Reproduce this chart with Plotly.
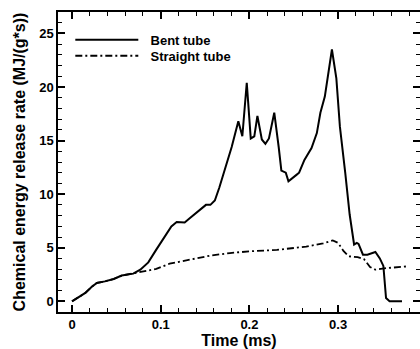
import plotly.graph_objects as go

# Bent tube (solid)
bent_t = [0, 0.009, 0.015, 0.022, 0.028, 0.037, 0.047, 0.056, 0.062, 0.069, 0.077, 0.086,
          0.095, 0.105, 0.112, 0.118, 0.127, 0.133, 0.140, 0.146, 0.151, 0.156, 0.161, 0.166,
          0.172, 0.180, 0.1875, 0.192, 0.197, 0.2015, 0.2055, 0.209, 0.214, 0.218, 0.222,
          0.228, 0.233, 0.236, 0.241, 0.244, 0.253, 0.256, 0.262, 0.270, 0.276, 0.280,
          0.285, 0.293, 0.298, 0.302, 0.308, 0.313, 0.318, 0.321, 0.323, 0.328, 0.333,
          0.338, 0.342, 0.347, 0.351, 0.354, 0.358, 0.372]
bent_v = [0, 0.47, 0.78, 1.34, 1.71, 1.86, 2.08, 2.4, 2.49, 2.58, 2.95, 3.63,
          4.82, 6.06, 6.99, 7.4, 7.36, 7.77, 8.24, 8.6, 9.0, 9.0, 9.4, 10.6,
          12.3, 14.4, 16.8, 15.4, 20.4, 15.2, 15.4, 17.3, 15.1, 14.7, 15.2,
          17.6, 14.4, 12.2, 12.0, 11.2, 11.8, 12.0, 13.2, 14.3, 15.7, 17.6,
          19.1, 23.5, 20.8, 16.3, 12.0, 8.1, 5.3, 5.45, 5.35, 4.35, 4.35,
          4.5, 4.6, 4.0, 3.3, 0.3, 0, 0]

# Straight tube (dash-dot)
straight_t = [0, 0.009, 0.015, 0.022, 0.028, 0.037, 0.047, 0.056, 0.062, 0.069, 0.077,
              0.084, 0.095, 0.110, 0.126, 0.141, 0.156, 0.178, 0.200, 0.231, 0.264,
              0.283, 0.294, 0.300, 0.306, 0.312, 0.322, 0.329, 0.336, 0.342, 0.355, 0.378]
straight_v = [0, 0.47, 0.78, 1.34, 1.71, 1.86, 2.08, 2.4, 2.49, 2.58, 2.68,
              2.8, 3.02, 3.51, 3.79, 4.04, 4.26, 4.5, 4.66, 4.8, 5.1,
              5.4, 5.68, 5.45, 4.7, 4.2, 4.12, 3.95, 3.2, 2.95, 3.1, 3.26]

x_tickvals = [0, 0.1, 0.2, 0.3]
x_ticktext = ["0", "0.1", "0.2", "0.3"]
y_tickvals = [0, 5, 10, 15, 20, 25]
y_ticktext = ["0", "5", "10", "15", "20", "25"]

FONT = "Liberation Sans, Arial, sans-serif"
NB = "\u00a0\u00a0"

fig = go.Figure()
fig.add_trace(go.Scatter(x=bent_t, y=bent_v, mode="lines", name=NB + "Bent tube",
                         legend="legend",
                         line=dict(color="black", width=2)))
fig.add_trace(go.Scatter(x=straight_t, y=straight_v, mode="lines", name=NB + "Straight tube",
                         legend="legend2",
                         line=dict(color="black", width=1.8, dash="7px,3px,2px,3px")))

axis_common = dict(
    showline=True, linecolor="black", linewidth=1.5, mirror="ticks",
    ticks="inside", ticklen=7, tickwidth=1.5, tickcolor="black",
    showgrid=False, zeroline=False, automargin=False,
    tickfont=dict(family=FONT, size=13, color="black", weight="bold"),
)

legend_common = dict(xanchor="left", yanchor="middle",
                     bgcolor="rgba(0,0,0,0)", itemwidth=63,
                     font=dict(family=FONT, size=13, color="black", weight="bold"))

fig.update_layout(
    width=420, height=349,
    margin=dict(l=58, r=0, t=12, b=37),
    paper_bgcolor="white", plot_bgcolor="white",
    font=dict(family=FONT, color="black"),
    showlegend=True,
    legend=dict(x=0.034, y=0.907, **legend_common),
    legend2=dict(x=0.034, y=0.854, **legend_common),
    xaxis=dict(range=[-0.0158, 0.3923], tickvals=x_tickvals, ticktext=x_ticktext,
               title=dict(text="Time (ms)", standoff=4,
                          font=dict(family=FONT, size=16, color="black", weight="bold")),
               minor=dict(dtick=0.02, tick0=0, ticks="inside", ticklen=4, tickwidth=1,
                          tickcolor="black", showgrid=False),
               **axis_common),
    yaxis=dict(range=[-1, 27], tickvals=y_tickvals, ticktext=y_ticktext,
               title=dict(text="Chemical energy release rate (MJ/(g*s))", standoff=10,
                          font=dict(family=FONT, size=16, color="black", weight="bold")),
               minor=dict(dtick=1, tick0=0, ticks="inside", ticklen=4, tickwidth=1,
                          tickcolor="black", showgrid=False),
               **axis_common),
)

fig.write_html("out.html", config={"displayModeBar": False},
               post_script="document.body.style.margin='0';document.body.style.overflow='hidden';")
